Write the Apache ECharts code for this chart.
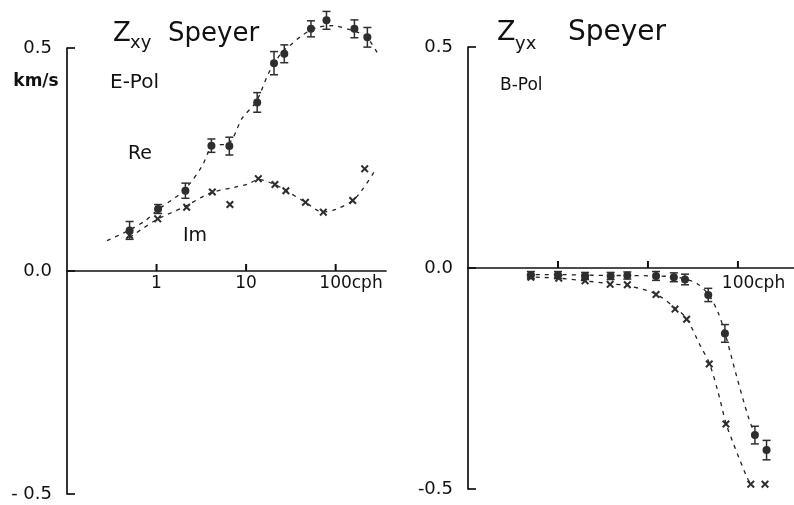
<!DOCTYPE html>
<html lang="en">
<head>
<meta charset="UTF-8">
<title>Zxy / Zyx Speyer</title>
<script src="https://cdn.jsdelivr.net/npm/echarts@6.0.0/dist/echarts.min.js"></script>
<style>
html, body { margin: 0; padding: 0; background: #fff; }
#chart { width: 794px; height: 505px; }
</style>
</head>
<body>
<div id="chart"></div>
<script>
// left panel: Zxy, E-Pol   (frequency in cph, value in km/s)
var xyReFreq = [0.5, 1.04, 2.1, 4.1, 6.5, 13.3, 20.5, 26.7, 53, 79, 162, 226];
var xyReVal  = [0.091, 0.139, 0.18, 0.281, 0.28, 0.378, 0.466, 0.487, 0.543, 0.562, 0.543, 0.524];
var xyReErr  = [0.02, 0.01, 0.017, 0.015, 0.02, 0.022, 0.026, 0.02, 0.018, 0.02, 0.02, 0.022];
var xyImFreq = [0.5, 1.03, 2.17, 4.2, 6.6, 13.7, 21, 27.8, 46, 72.8, 155, 211];
var xyImVal  = [0.08, 0.117, 0.143, 0.177, 0.149, 0.207, 0.194, 0.18, 0.154, 0.132, 0.158, 0.229];
// dashed fit curves
var xyReFitFreq = [0.28, 0.5, 0.75, 1, 2, 3.2, 4.2, 6.5, 9, 13, 18, 25, 31, 42, 60, 90, 150, 220, 290];
var xyReFitVal  = [0.068, 0.092, 0.113, 0.135, 0.18, 0.234, 0.28, 0.287, 0.342, 0.38, 0.445, 0.49, 0.506, 0.528, 0.545, 0.55, 0.54, 0.525, 0.49];
var xyImFitFreq = [0.5, 1, 2, 4, 7.5, 10.5, 13.7, 21, 28, 46, 72, 100, 155, 195, 275];
var xyImFitVal  = [0.075, 0.115, 0.143, 0.175, 0.188, 0.195, 0.205, 0.194, 0.18, 0.154, 0.132, 0.138, 0.158, 0.18, 0.225];

// right panel: Zyx, B-Pol
var yxReFreq = [0.5, 1, 2, 3.85, 5.9, 12.3, 19.4, 25.8, 46.8, 71.7, 154.5, 208];
var yxReVal  = [-0.016, -0.016, -0.018, -0.018, -0.017, -0.018, -0.021, -0.026, -0.061, -0.148, -0.378, -0.412];
var yxReErr  = [0.008, 0.008, 0.008, 0.008, 0.008, 0.01, 0.01, 0.012, 0.015, 0.02, 0.02, 0.022];
var yxImFreq = [0.5, 1.02, 2, 3.8, 5.9, 12.3, 20, 26.9, 48, 73.6, 139, 200];
var yxImVal  = [-0.021, -0.023, -0.029, -0.037, -0.038, -0.06, -0.093, -0.116, -0.217, -0.353, -0.489, -0.489];
var yxReFitFreq = [0.45, 1, 2, 4, 6, 12, 20, 26, 35, 47, 60, 72, 97, 130, 155];
var yxReFitVal  = [-0.015, -0.015, -0.016, -0.017, -0.017, -0.018, -0.02, -0.025, -0.035, -0.06, -0.1, -0.148, -0.246, -0.336, -0.378];
var yxImFitFreq = [0.45, 1, 2, 4, 6, 12, 20, 27, 38, 48, 60, 74, 89, 125, 140];
var yxImFitVal  = [-0.02, -0.023, -0.029, -0.036, -0.04, -0.058, -0.09, -0.115, -0.175, -0.215, -0.28, -0.353, -0.397, -0.472, -0.49];

// x ticks (cph) and the tick labels shown on each panel
var xTickValues = [1, 10, 100];
var xyTickLabels = ['1', '10', '100'];
var yxTickLabels = ['100'];

var ink = '#111';
var markInk = '#2e2e2e';
var font = 'DejaVu Sans';
var crossPath = 'path://M0,1.8L1.8,0L5,3.2L8.2,0L10,1.8L6.8,5L10,8.2L8.2,10L5,6.8L1.8,10L0,8.2L3.2,5Z';

function pairs(a, b, c) {
    var res = [];
    for (var i = 0; i < a.length; i++) {
        res.push(c ? [a[i], b[i], c[i]] : [a[i], b[i]]);
    }
    return res;
}

function renderErr(params, api) {
    var x = api.value(0), v = api.value(1), e = api.value(2);
    var hi = api.coord([x, v + e]);
    var lo = api.coord([x, v - e]);
    var w = 4;
    var st = { stroke: markInk, lineWidth: 1.5 };
    return {
        type: 'group',
        children: [
            { type: 'line', shape: { x1: hi[0], y1: hi[1], x2: lo[0], y2: lo[1] }, style: st },
            { type: 'line', shape: { x1: hi[0] - w, y1: hi[1], x2: hi[0] + w, y2: hi[1] }, style: st },
            { type: 'line', shape: { x1: lo[0] - w, y1: lo[1], x2: lo[0] + w, y2: lo[1] }, style: st }
        ]
    };
}

// small upward tick on the zero line
function renderTick(params, api) {
    var p = api.coord([api.value(0), 0]);
    return {
        type: 'line',
        shape: { x1: p[0], y1: p[1], x2: p[0], y2: p[1] - 7 },
        style: { stroke: ink, lineWidth: 2 }
    };
}

// axis that carries the line at y = 0
function xAxisDef(idx, max) {
    return {
        type: 'log', gridIndex: idx, logBase: 10, min: 0.1, max: max,
        axisLine: { onZero: true, lineStyle: { color: ink, width: 1.7 } },
        axisTick: { show: false },
        axisLabel: { show: false },
        splitLine: { show: false }
    };
}

// helper axis 0.1..100 on the upper half grid (bottom edge = y 0): labels only
function xLabelAxis(idx, labels, margin) {
    return {
        type: 'log', gridIndex: idx, logBase: 10, min: 0.1, max: 100,
        axisLine: { show: false },
        axisTick: { show: false },
        axisLabel: {
            margin: margin, color: ink, fontSize: 17, fontFamily: font,
            showMinLabel: true, showMaxLabel: true, hideOverlap: false,
            formatter: function (v) {
                var s = String(Math.round(v));
                if (v < 0.5 || labels.indexOf(s) < 0) return '';
                return s === '100' ? '{p| }100cph' : s;
            },
            rich: { p: { width: 31, fontSize: 17 } }
        },
        splitLine: { show: false }
    };
}

function yAxisDef(idx, negLabel) {
    return {
        type: 'value', gridIndex: idx, min: -0.5, max: 0.5, interval: 0.5,
        axisLine: { show: true, onZero: false, lineStyle: { color: ink, width: 1.7 } },
        axisTick: { show: true, inside: true, length: 8, lineStyle: { color: ink, width: 1.7 } },
        axisLabel: {
            margin: 15, color: ink, fontSize: 18, fontFamily: font,
            formatter: function (v) { return v < 0 ? negLabel : v.toFixed(1); }
        },
        splitLine: { show: false }
    };
}

function hiddenY(idx) {
    return { type: 'value', gridIndex: idx, min: 0, max: 0.5, show: false };
}

function fitLine(xi, fx, fy) {
    return {
        type: 'line', xAxisIndex: xi, yAxisIndex: xi, data: pairs(fx, fy),
        smooth: 0.3, symbol: 'none', silent: true, z: 1, clip: false,
        lineStyle: { color: '#222', width: 1.3, type: [4, 5] }
    };
}

function dots(xi, fx, fy, sym, size) {
    return {
        type: 'scatter', xAxisIndex: xi, yAxisIndex: xi, data: pairs(fx, fy),
        symbol: sym, symbolSize: size, silent: true, z: 3, clip: false,
        itemStyle: { color: markInk, opacity: 1 }
    };
}

function errBars(xi, fx, fy, fe) {
    return {
        type: 'custom', xAxisIndex: xi, yAxisIndex: xi, data: pairs(fx, fy, fe),
        encode: { x: 0, y: 1 }, renderItem: renderErr, silent: true, z: 2, clip: false
    };
}

function ticks(xi) {
    return {
        type: 'custom', xAxisIndex: xi, yAxisIndex: xi,
        data: xTickValues.map(function (v) { return [v, 0]; }),
        encode: { x: 0, y: 1 }, renderItem: renderTick, silent: true, z: 5, clip: false
    };
}

var chart = echarts.init(document.getElementById('chart'), null, { renderer: 'canvas' });

// left: 1 decade = 89.5 px, right: 1 decade = 90 px
var option = {
    backgroundColor: '#fff',
    animation: false,
    grid: [
        { left: 67, top: 48, width: 319, height: 446, outerBoundsMode: 'none' },
        { left: 468, top: 47, width: 326, height: 442, outerBoundsMode: 'none' },
        { left: 67, top: 48, width: 268.5, height: 223, outerBoundsMode: 'none' },
        { left: 468, top: 47, width: 270, height: 221, outerBoundsMode: 'none' }
    ],
    xAxis: [
        xAxisDef(0, 365), xAxisDef(1, 420),
        xLabelAxis(2, xyTickLabels, 4), xLabelAxis(3, yxTickLabels, 7)
    ],
    yAxis: [yAxisDef(0, '- 0.5'), yAxisDef(1, '-0.5'), hiddenY(2), hiddenY(3)],
    graphic: [
        // left titles
        { type: 'text', x: 113, y: 34, style: { text: 'Z', font: '26px "DejaVu Sans"', fill: ink, verticalAlign: 'middle' } },
        { type: 'text', x: 130, y: 43, style: { text: 'xy', font: '18px "DejaVu Sans"', fill: ink, verticalAlign: 'middle' } },
        { type: 'text', x: 168, y: 34, style: { text: 'Speyer', font: '26px "DejaVu Sans"', fill: ink, verticalAlign: 'middle' } },
        { type: 'text', x: 36, y: 82, style: { text: 'km/s', font: 'bold 17px "DejaVu Sans"', fill: ink, align: 'center', verticalAlign: 'middle' } },
        { type: 'text', x: 110, y: 83, style: { text: 'E-Pol', font: '20px "DejaVu Sans"', fill: ink, verticalAlign: 'middle' } },
        { type: 'text', x: 128, y: 154, style: { text: 'Re', font: '19px "DejaVu Sans"', fill: ink, verticalAlign: 'middle' } },
        { type: 'text', x: 183, y: 236, style: { text: 'Im', font: '19px "DejaVu Sans"', fill: ink, verticalAlign: 'middle' } },
        // right titles
        { type: 'text', x: 497, y: 33, style: { text: 'Z', font: '27px "DejaVu Sans"', fill: ink, verticalAlign: 'middle' } },
        { type: 'text', x: 515, y: 44, style: { text: 'yx', font: '18px "DejaVu Sans"', fill: ink, verticalAlign: 'middle' } },
        { type: 'text', x: 568, y: 33, style: { text: 'Speyer', font: '28px "DejaVu Sans"', fill: ink, verticalAlign: 'middle' } },
        { type: 'text', x: 500, y: 86, style: { text: 'B-Pol', font: '17px "DejaVu Sans"', fill: ink, verticalAlign: 'middle' } }
    ],
    series: [
        ticks(0),
        fitLine(0, xyReFitFreq, xyReFitVal),
        fitLine(0, xyImFitFreq, xyImFitVal),
        errBars(0, xyReFreq, xyReVal, xyReErr),
        dots(0, xyReFreq, xyReVal, 'circle', 8),
        dots(0, xyImFreq, xyImVal, crossPath, 8),
        ticks(1),
        fitLine(1, yxReFitFreq, yxReFitVal),
        fitLine(1, yxImFitFreq, yxImFitVal),
        errBars(1, yxReFreq, yxReVal, yxReErr),
        dots(1, yxReFreq, yxReVal, 'circle', 8),
        dots(1, yxImFreq, yxImVal, crossPath, 8)
    ]
};

chart.setOption(option);
</script>
</body>
</html>
